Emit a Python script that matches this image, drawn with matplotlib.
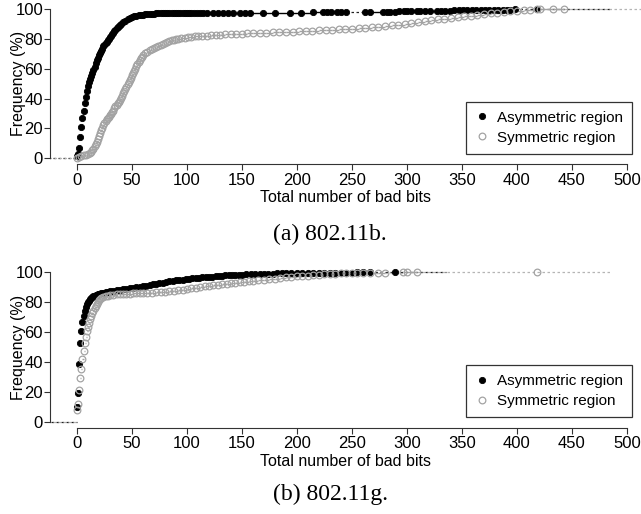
import numpy as np
import matplotlib
matplotlib.use('Agg')
import matplotlib.pyplot as plt

plt.rcParams['font.family'] = ['Liberation Sans', 'DejaVu Sans']

# ---- data ----
# (a) 802.11b, asymmetric region
b_asym_x = [0, 1, 2, 3, 4, 5, 6, 7, 8, 9, 10, 11, 12, 13, 14, 15, 16, 17, 18, 19, 20,
            21, 22, 23, 24, 25, 26, 27, 28, 29, 30, 31, 32, 33, 34, 35, 36, 37, 38, 39, 40,
            42, 44, 46, 48, 50, 52, 54, 56, 58, 60, 62, 64, 66, 68, 70, 72, 74, 76, 78, 80,
            82, 84, 86, 88, 90, 92, 94, 96, 98, 100, 102, 104, 106, 109, 112, 115, 118,
            124, 128, 133, 137, 142, 148, 153, 157, 169, 180, 194, 204, 215, 224, 227, 231,
            236, 240, 245, 262, 266, 278, 282, 285, 289, 293, 297, 300, 304, 309, 312, 316,
            321, 327, 331, 335, 339, 343, 347, 351, 355, 359, 363, 367, 371, 375, 379, 383,
            387, 391, 394, 398, 418]
b_asym_y = [1.5, 3, 7, 14, 21, 27, 32, 37, 41, 45, 48.5, 51, 53, 55, 57, 59, 61, 63.5, 66, 67.5, 69,
            70.5, 72, 73.5, 75, 76, 77, 78, 79, 80, 81, 82, 83, 84, 85, 86, 87, 87.8, 88.6, 89.4, 90,
            91, 92, 93, 94, 94.6, 95.1, 95.5, 95.8, 96.1, 96.3, 96.5, 96.6, 96.7, 96.8, 96.9, 97, 97, 97.1, 97.1, 97.2,
            97.2, 97.2, 97.3, 97.3, 97.3, 97.3, 97.4, 97.4, 97.4, 97.4, 97.4, 97.4, 97.4, 97.4, 97.4, 97.4, 97.4,
            97.4, 97.4, 97.4, 97.4, 97.4, 97.4, 97.4, 97.4, 97.5, 97.5, 97.6, 97.6, 97.7, 97.7, 97.7, 97.7,
            97.8, 97.8, 97.8, 98, 98, 98.2, 98.2, 98.3, 98.3, 98.4, 98.4, 98.5, 98.5, 98.6, 98.6, 98.7,
            98.7, 98.8, 98.8, 98.9, 98.9, 99, 99, 99.1, 99.1, 99.2, 99.2, 99.3, 99.3, 99.3, 99.4, 99.4,
            99.5, 99.5, 99.6, 99.8, 100]

# (a) 802.11b, symmetric region
b_sym_x = [0, 2, 4, 6, 8, 10, 12, 13, 14, 15, 16, 17, 18, 19, 20, 21, 22, 23, 24, 25, 26, 27, 28,
           29, 30, 31, 32, 33, 34, 35, 36, 37, 38, 39, 40, 41, 42, 43, 44, 45, 46, 47, 48, 49, 50,
           51, 52, 53, 54, 55, 56, 57, 58, 59, 60, 62, 64, 66, 68, 70, 72, 74, 76, 78, 80, 82, 84,
           86, 88, 90, 92, 95, 98, 101, 104, 107, 110, 114, 118, 122, 126, 130, 135, 140, 145, 150,
           155, 160, 166, 172, 178, 184, 190, 196, 202, 208, 214, 220, 226, 232, 238, 244, 250, 256,
           262, 268, 274, 280, 286, 292, 298, 304, 310, 316, 322, 328, 334, 340, 346, 352, 358, 364,
           370, 376, 382, 388, 394, 400, 406, 412, 418, 421, 433, 443]
b_sym_y = [0.5, 1, 1.5, 2, 2.5, 3, 3.8, 4.5, 5.5, 6.5, 8, 9.5, 11, 13, 15, 17, 19, 20.5, 22, 23.5, 25, 26, 27,
           28, 29, 30, 31, 32, 33.5, 35, 36, 37, 38, 39, 40.5, 42, 43.5, 45, 46.5, 48, 49.5, 51, 52.5, 54, 55.5,
           57, 58.5, 60, 61.5, 63, 64.5, 66, 67, 68, 69, 70.2, 71.3, 72.5, 73.3, 74, 74.8, 75.5, 76.2, 76.8, 77.4, 78, 78.5,
           79, 79.3, 79.6, 79.9, 80.3, 80.7, 81, 81.3, 81.6, 81.8, 82, 82.2, 82.4, 82.6, 82.8, 83, 83.1, 83.3, 83.4,
           83.6, 83.7, 83.9, 84.1, 84.3, 84.5, 84.7, 84.9, 85.1, 85.3, 85.5, 85.7, 85.9, 86.1, 86.3, 86.6, 86.9, 87.2,
           87.5, 87.8, 88.2, 88.6, 89, 89.5, 90, 90.6, 91.2, 91.8, 92.4, 93, 93.6, 94.1, 94.6, 95.1, 95.6, 96.1,
           96.6, 97.1, 97.6, 98.1, 98.5, 98.9, 99.3, 99.6, 99.8, 99.9, 99.95, 100]

# (b) 802.11g, asymmetric region
g_asym_x = [0, 1, 2, 3, 4, 5, 6, 7, 8, 9, 10, 11, 12, 13, 14, 15, 16, 17, 18, 19, 20, 22, 24, 26, 28,
            30, 33, 36, 39, 42, 45, 48, 51, 54, 57, 60, 63, 66, 69, 72, 75, 78, 81, 84, 87, 90, 93, 96,
            99, 102, 105, 108, 111, 114, 117, 120, 123, 126, 129, 132, 135, 138, 141, 144, 147, 150,
            154, 158, 162, 166, 170, 174, 178, 182, 186, 190, 195, 200, 205, 210, 215, 220, 225, 230,
            235, 240, 245, 250, 255, 260, 266, 289]
g_asym_y = [10, 19, 38.5, 52.5, 60.5, 66.5, 71, 74, 76.5, 78.5, 80, 81, 82, 82.8, 83.4, 84, 84.4, 84.8, 85.1, 85.4, 85.7,
            86.1, 86.5, 86.8, 87.1, 87.4, 87.8, 88.1, 88.4, 88.8, 89.1, 89.4, 89.7, 90, 90.4, 90.8, 91.2, 91.6,
            92, 92.4, 92.8, 93.2, 93.6, 94, 94.3, 94.6, 94.9, 95.2, 95.5, 95.8, 96, 96.2, 96.4, 96.6, 96.8, 97,
            97.2, 97.4, 97.6, 97.8, 98, 98.1, 98.2, 98.3, 98.4, 98.5, 98.6, 98.7, 98.8, 98.9, 99, 99.1, 99.2,
            99.3, 99.4, 99.5, 99.55, 99.6, 99.65, 99.7, 99.72, 99.75, 99.78, 99.8, 99.82, 99.85, 99.87, 99.9,
            99.92, 99.94, 99.97, 100]

# (b) 802.11g, symmetric region
g_sym_x = [0, 1, 2, 3, 4, 5, 6, 7, 8, 9, 10, 11, 12, 13, 14, 15, 16, 17, 18, 19, 20, 21, 22, 24, 26, 28,
           30, 33, 36, 39, 42, 45, 48, 51, 54, 57, 60, 64, 68, 72, 76, 80, 84, 88, 92, 96, 100, 104, 108,
           112, 116, 120, 124, 128, 132, 136, 140, 144, 148, 152, 156, 160, 165, 170, 175, 180, 185, 190,
           195, 200, 205, 210, 215, 220, 225, 230, 235, 240, 245, 250, 255, 260, 266, 274, 280, 296, 300,
           309, 418]
g_sym_y = [7.8, 12, 21.5, 29, 35.5, 42, 47.5, 53, 57, 60.5, 63.5, 66, 68.5, 70.5, 72.5, 74.2, 76, 77.5, 79,
           80.2, 81.3, 82.1, 82.8, 83.6, 84.1, 84.5, 84.8, 85.1, 85.3, 85.5, 85.6, 85.7, 85.8, 85.9, 86, 86.1,
           86.2, 86.3, 86.4, 86.6, 86.8, 87, 87.3, 87.6, 87.9, 88.3, 88.8, 89.3, 89.8, 90.3, 90.7, 91.1, 91.5,
           91.8, 92.1, 92.4, 92.7, 93, 93.3, 93.6, 93.9, 94.2, 94.6, 95, 95.4, 95.8, 96.2, 96.6, 97, 97.3, 97.6,
           97.9, 98.2, 98.5, 98.8, 99, 99.2, 99.35, 99.5, 99.6, 99.68, 99.75, 99.8, 99.85, 99.88, 99.92, 99.95,
           99.97, 100]

labels = ['Asymmetric region', 'Symmetric region']
captions = ['(a) 802.11b.', '(b) 802.11g.']
x_ticks = list(range(0, 501, 50))
y_ticks = list(range(0, 101, 20))

GRAY = '#a3a3a3'


def draw_ecdf(ax, xs, ys, color, dash_color, filled):
    xs = np.asarray(xs, float)
    ys = np.asarray(ys, float)
    ext = 2 * max(0.08 * (xs[-1] - xs[0]), np.median(np.diff(xs)))
    gaps = np.diff(xs)
    short = gaps <= 15
    ax.hlines(ys[:-1][short], xs[:-1][short], xs[1:][short], color=color, lw=1.0, zorder=2)
    # long steps look dashed in the original
    ax.hlines(ys[:-1][~short], xs[:-1][~short], xs[1:][~short], color=dash_color, lw=0.9,
              linestyles=(0, (2, 2)), zorder=1)
    ax.plot([xs[0] - ext, xs[0]], [0, 0], ls=(0, (2, 2)), color=dash_color, lw=0.9, zorder=1)
    ax.plot([xs[-1], xs[-1] + ext], [ys[-1], ys[-1]], ls=(0, (2, 2)), color=dash_color, lw=0.9, zorder=1)
    if filled:
        h, = ax.plot(xs, ys, 'o', ms=4.5, mfc=color, mec=color, mew=0.6, ls='none', zorder=3)
    else:
        h, = ax.plot(xs, ys, 'o', ms=4.8, mfc='none', mec=color, mew=0.9, ls='none', zorder=4)
    return h


fig = plt.figure(figsize=(6.41, 5.14), dpi=100)
ax_rects = [[50 / 641, 1 - 164.3 / 514, 591 / 641, 161.3 / 514],
            [50 / 641, 1 - 427.7 / 514, 591 / 641, 161.3 / 514]]
series = [(b_asym_x, b_asym_y, b_sym_x, b_sym_y), (g_asym_x, g_asym_y, g_sym_x, g_sym_y)]
cap_y = [1 - 234 / 514, 1 - 494 / 514]

for k in range(2):
    ax = fig.add_axes(ax_rects[k])
    ax_x, ax_y, sx, sy = series[k]
    h1 = draw_ecdf(ax, ax_x, ax_y, 'black', '#222222', True)
    h2 = draw_ecdf(ax, sx, sy, GRAY, '#b5b5b5', False)

    ax.set_xlim(-24.5, 512.8)
    ax.set_ylim(-4, 104)
    for s in ['top', 'right']:
        ax.spines[s].set_visible(False)
    ax.spines['left'].set_bounds(0, 100)
    ax.spines['bottom'].set_bounds(0, 500)
    for s in ['left', 'bottom']:
        ax.spines[s].set_linewidth(0.8)
        ax.spines[s].set_color('#333333')
    ax.set_xticks(x_ticks)
    ax.set_yticks(y_ticks)
    ax.tick_params(axis='both', direction='out', length=4, width=0.8, color='#333333', labelsize=12)
    ax.tick_params(axis='y', pad=1)
    ax.tick_params(axis='x', pad=2)
    ax.set_xlabel('Total number of bad bits', fontsize=11.5, labelpad=2)
    ax.set_ylabel('Frequency (%)', fontsize=11.5)
    ax.yaxis.set_label_coords(-0.041, 0.5)

    leg = ax.legend([h1, h2], labels, loc='lower right', bbox_to_anchor=(0.985, 0.064),
                    borderaxespad=0, fontsize=11, frameon=True, fancybox=False,
                    handlelength=0.8, handletextpad=0.6, borderpad=0.6, labelspacing=0.4,
                    markerscale=1.0)
    leg.get_frame().set_edgecolor('black')
    leg.get_frame().set_linewidth(0.9)

    fig.text(0.515, cap_y[k], captions[k], ha='center', va='center',
             fontsize=17, family=['Liberation Serif', 'DejaVu Serif'])

fig.savefig('out.png', dpi=100)
